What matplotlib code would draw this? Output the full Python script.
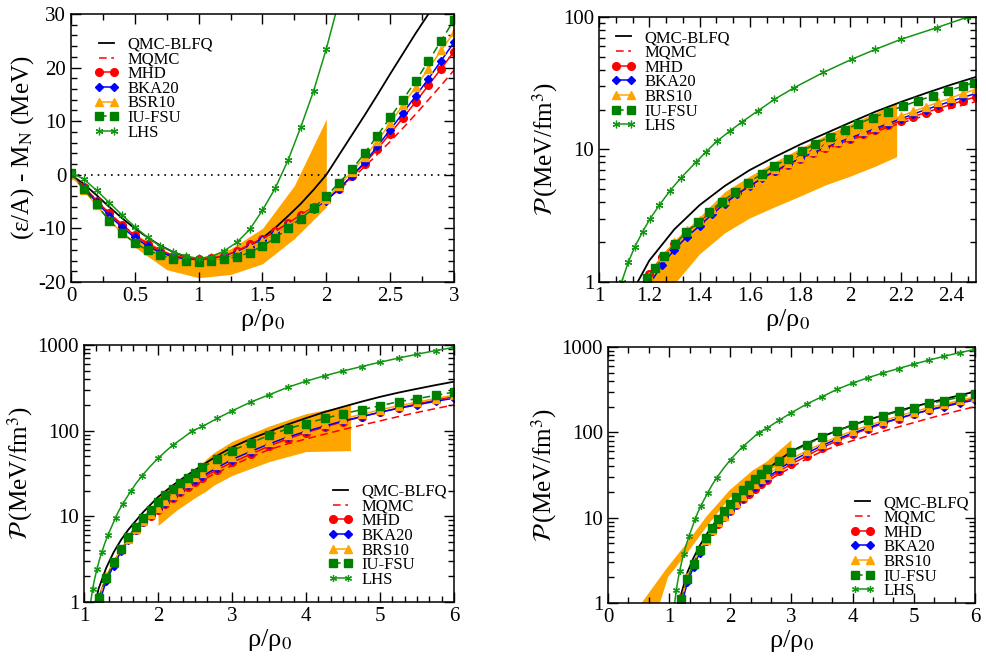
import matplotlib
matplotlib.use('Agg')
import matplotlib.pyplot as plt
import matplotlib.ticker as mt

plt.rcParams['font.family'] = ['Liberation Serif', 'DejaVu Serif']
plt.rcParams['mathtext.fontset'] = 'stix'
plt.rcParams['axes.linewidth'] = 1.1

# ---------------- Panel 1: energy per nucleon ----------------
rho1 = [0.0, 0.1, 0.2, 0.3, 0.4, 0.5, 0.6, 0.7, 0.8, 0.9, 1.0, 1.1, 1.2, 1.3, 1.4, 1.5,
        1.6, 1.7, 1.8, 1.9, 2.0, 2.1, 2.2, 2.3, 2.4, 2.5, 2.6, 2.7, 2.8, 2.9, 3.0]
e_qmc = [0.0, -1.7, -3.8, -6.0, -8.1, -10.0, -11.7, -13.2, -14.4, -15.3, -15.8, -15.8, -15.4, -14.6,
         -13.4, -11.8, -9.9, -7.7, -5.4, -2.8, 0.0, 3.7, 7.4, 11.1, 14.9, 18.8, 22.6, 26.4, 30.0, 33.7, 37.3]
e_mqmc = [0.0, -2.2, -4.7, -7.1, -9.3, -11.2, -12.8, -14.1, -15.0, -15.6, -15.8, -15.6, -15.1, -14.3,
          -13.2, -12.0, -10.6, -9.2, -7.7, -6.2, -4.6, -2.8, -0.7, 1.5, 3.8, 6.2, 8.7, 11.3, 14.0, 16.7, 19.5]
e_mhd = [0.0, -2.3, -4.8, -7.2, -9.4, -11.3, -12.9, -14.2, -15.1, -15.6, -15.8, -15.6, -15.1, -14.2,
         -13.0, -11.9, -10.5, -9.0, -7.5, -6.0, -4.6, -2.6, -0.3, 2.1, 4.8, 7.7, 10.6, 13.6, 16.7, 19.8, 23.0]
e_bka = [0.0, -2.5, -5.1, -7.6, -9.8, -11.7, -13.3, -14.5, -15.3, -15.8, -16.0, -15.8, -15.3, -14.5,
         -13.4, -12.2, -10.9, -9.4, -7.9, -6.4, -4.8, -2.6, -0.2, 2.3, 5.3, 8.4, 11.5, 14.7, 17.9, 21.3, 24.7]
e_bsr = [0.0, -2.8, -5.7, -8.5, -10.8, -12.6, -14.0, -15.0, -15.6, -16.0, -16.1, -15.9, -15.4, -14.6,
         -13.5, -12.3, -10.9, -9.4, -7.8, -6.2, -4.5, -2.0, 0.6, 3.3, 6.3, 9.6, 13.0, 16.4, 19.8, 23.2, 26.6]
e_iufsu = [0.3, -2.7, -5.5, -8.6, -10.9, -12.7, -14.1, -15.0, -15.7, -16.1, -16.2, -16.0, -15.7, -15.3,
           -14.5, -13.3, -11.8, -10.0, -8.2, -6.2, -4.0, -1.5, 1.0, 4.0, 7.3, 10.7, 14.0, 17.5, 21.2, 25.0, 28.9]
rho1_lhs = [0.0, 0.1, 0.2, 0.3, 0.4, 0.5, 0.6, 0.7, 0.8, 0.9, 1.0, 1.1, 1.2, 1.3, 1.4, 1.5,
            1.6, 1.7, 1.8, 1.9, 2.0, 2.1]
e_lhs = [0.4, -0.8, -2.9, -5.2, -7.5, -9.7, -11.7, -13.3, -14.4, -15.2, -15.6, -15.3, -14.2, -12.6,
         -10.2, -6.6, -2.5, 2.7, 8.9, 15.6, 23.5, 32.5]
band1_x = [0.5, 0.75, 1.0, 1.25, 1.5, 1.75, 2.0]
band1_lo = [-13.5, -17.7, -19.2, -18.6, -16.6, -11.9, -6.0]
band1_hi = [-11.0, -14.5, -15.5, -13.8, -10.0, -2.0, 10.4]

# ---------------- Panel 2: pressure, 1 - 2.5 rho0 ----------------
rho2 = [1.15, 1.2, 1.25, 1.3, 1.35, 1.4, 1.45, 1.5, 1.55, 1.6, 1.65, 1.7, 1.75, 1.8,
        1.85, 1.9, 1.95, 2.0, 2.05, 2.1, 2.15, 2.2, 2.25, 2.3, 2.35, 2.4, 2.45, 2.5]
p2_mhd = [0.75, 1.15, 1.55, 1.95, 2.4, 2.85, 3.45, 4.05, 4.7, 5.4, 6.15, 6.9, 7.7, 8.5,
          9.35, 10.2, 11.1, 12.0, 13.0, 14.0, 15.2, 16.4, 17.7, 19.0, 20.4, 21.9, 23.4, 25.0]
p2_bka = [0.6, 0.95, 1.35, 1.75, 2.2, 2.65, 3.25, 3.9, 4.6, 5.3, 6.1, 6.9, 7.75, 8.6,
          9.5, 10.4, 11.35, 12.3, 13.3, 14.4, 15.7, 17.0, 18.5, 20.0, 21.5, 23.1, 24.8, 26.5]
p2_bsr = [0.7, 1.1, 1.55, 2.0, 2.45, 2.95, 3.55, 4.15, 4.8, 5.5, 6.3, 7.1, 7.95, 8.8,
          9.7, 10.6, 11.6, 12.6, 13.7, 14.9, 16.3, 17.8, 19.4, 21.0, 22.7, 24.5, 26.5, 28.5]
p2_mqmc = [0.7, 1.1, 1.5, 1.95, 2.4, 2.9, 3.45, 4.05, 4.7, 5.35, 6.05, 6.8, 7.55, 8.35,
           9.15, 10.0, 10.9, 11.8, 12.7, 13.6, 14.7, 15.8, 16.9, 18.1, 19.3, 20.5, 21.7, 23.0]
rho2_qmc = [1.15, 1.2, 1.3, 1.4, 1.5, 1.6, 1.7, 1.8, 1.9, 2.0, 2.1, 2.2, 2.3, 2.4, 2.5]
p2_qmc = [0.97, 1.45, 2.5, 3.8, 5.3, 7.0, 8.8, 10.9, 13.2, 16.0, 19.3, 22.8, 26.6, 30.8, 35.3]
rho2_iufsu = [1.192, 1.223, 1.259, 1.302, 1.346, 1.395, 1.439, 1.488, 1.541, 1.592, 1.647, 1.696, 1.753,
              1.809, 1.859, 1.919, 1.979, 2.032, 2.091, 2.151, 2.211, 2.271, 2.33, 2.39, 2.45, 2.49]
p2_iufsu = [1.08, 1.27, 1.57, 1.92, 2.37, 2.85, 3.4, 4.04, 4.75, 5.62, 6.5, 7.55, 8.48,
            9.75, 11.0, 12.5, 14.0, 15.7, 17.4, 19.3, 21.3, 23.4, 25.5, 27.8, 30.1, 32.0]
rho2_lhs = [1.09, 1.117, 1.143, 1.174, 1.203, 1.24, 1.283, 1.326, 1.385, 1.426, 1.468, 1.521,
            1.57, 1.631, 1.698, 1.777, 1.893, 2.005, 2.10, 2.2, 2.343, 2.463]
p2_lhs = [1.0, 1.42, 1.85, 2.4, 3.0, 3.8, 4.9, 6.1, 8.0, 9.6, 11.5, 13.8,
          16.2, 19.5, 23.9, 29.3, 38.2, 47.9, 57.0, 67.7, 83.0, 99.4]
band2_x = [1.2, 1.25, 1.3, 1.4, 1.5, 1.6, 1.7, 1.8, 1.9, 2.0, 2.1, 2.184]
band2_lo = [0.6, 0.75, 0.97, 1.63, 2.35, 3.05, 3.7, 4.45, 5.4, 6.3, 7.5, 8.83]
band2_hi = [1.0, 1.55, 2.0, 3.1, 4.8, 6.3, 8.1, 10.2, 12.8, 15.6, 19.0, 22.5]

# ---------------- Panels 3 & 4: pressure, 1 - 6 rho0 ----------------
rho3 = [1.15, 1.2, 1.3, 1.4, 1.5, 1.6, 1.7, 1.8, 1.9, 2.0, 2.1, 2.2, 2.3, 2.4, 2.5,
        2.6, 2.8, 3.0, 3.25, 3.5, 3.75, 4.0, 4.25, 4.5, 4.75, 5.0, 5.25, 5.5, 5.75, 6.0]
p_mhd = [0.75, 1.15, 1.95, 2.85, 4.05, 5.4, 6.9, 8.5, 10.2, 12.0, 14.0, 16.4, 19.0, 21.9, 25.0,
         28.0, 35.0, 42.5, 53, 66, 80, 95, 110, 127, 145, 164, 184, 205, 227, 250]
p_bka = [0.6, 0.95, 1.75, 2.65, 3.9, 5.3, 6.9, 8.6, 10.4, 12.3, 14.4, 17.0, 20.0, 23.1, 26.5,
         29.5, 37, 46, 57, 70, 84, 98, 113, 130, 146, 164, 182, 200, 220, 239]
p_bsr = [0.7, 1.1, 2.0, 2.95, 4.15, 5.5, 7.1, 8.8, 10.6, 12.6, 14.9, 17.8, 21.0, 24.5, 28.5,
         32, 40, 49, 61, 74, 89, 104, 120, 137, 155, 175, 195, 215, 237, 260]
p_iufsu = [0.8, 1.12, 1.9, 2.9, 4.2, 5.8, 7.6, 9.55, 12.0, 14.6, 17.7, 20.9, 24.4, 28.2, 32.2,
           37.3, 46.6, 58.5, 72, 88, 105, 121, 139, 157, 176, 195, 218, 236, 258, 282]
p_mqmc = [0.7, 1.1, 1.95, 2.9, 4.05, 5.35, 6.8, 8.35, 10.0, 11.8, 13.6, 15.8, 18.1, 20.5, 23.0,
          26.5, 32.5, 39, 49, 60, 70, 80, 91, 103, 116, 130, 146, 163, 181, 200]
rho3_lhs = [1.06, 1.09, 1.117, 1.143, 1.174, 1.203, 1.24, 1.283, 1.326, 1.385, 1.426, 1.468, 1.521,
            1.57, 1.631, 1.698, 1.777, 1.893, 2.005, 2.10, 2.2, 2.343, 2.463,
            2.6, 2.8, 3.0, 3.25, 3.5, 3.75, 4.0, 4.25, 4.5, 4.75, 5.0, 5.25, 5.5, 5.75, 6.0]
p_lhs = [0.8, 1.0, 1.42, 1.85, 2.4, 3.0, 3.8, 4.9, 6.1, 8.0, 9.6, 11.5, 13.8,
         16.2, 19.5, 23.9, 29.3, 38.2, 47.9, 57.0, 67.7, 83.0, 99.4,
         112, 139, 170, 215, 262, 320, 378, 437, 497, 560, 630, 703, 780, 860, 939]
rho_qmc = [1.15, 1.2, 1.3, 1.4, 1.5, 1.6, 1.8, 2.0, 2.2, 2.4, 2.6, 2.8, 3.0, 3.25, 3.5,
           3.75, 4.0, 4.25, 4.5, 4.75, 5.0, 5.25, 5.5, 5.75, 6.0]
p3_qmc = [0.97, 1.45, 2.5, 3.8, 5.3, 7.0, 11.2, 16.8, 23.0, 30.5, 39.5, 51, 64, 80, 97,
          118, 140, 165, 190, 218, 248, 278, 308, 340, 373]
p4_qmc = [0.85, 1.3, 2.3, 3.4, 4.7, 6.2, 9.9, 14.7, 20.5, 27.5, 36.5, 47.5, 60, 74, 89,
          105, 122, 140, 159, 179, 200, 222, 246, 272, 300]
band3_x = [2.0, 2.25, 2.5, 2.66, 2.75, 3.0, 3.5, 4.0, 4.6]
band3_lo = [7.8, 11.8, 16.5, 20, 23, 30, 43.5, 57, 58.5]
band3_hi = [17.5, 24.5, 34, 47.5, 55, 75, 113, 158, 200]
band4_hi_x = [0.55, 0.96, 1.285, 1.61, 1.99, 2.37, 2.59, 3.0]
band4_hi = [1.0, 2.55, 5.0, 10.3, 21, 36, 45, 81]
band4_lo_x = [0.85, 0.985, 1.29, 1.61, 1.99, 2.32, 2.70, 3.0]
band4_lo = [1.0, 2.03, 3.8, 7.8, 16.9, 25, 37.9, 42]

ORANGE = '#ffa500'
style = {
    'QMC-BLFQ': dict(color='black', ls='-', lw=1.3),
    'MQMC': dict(color='#ff0000', ls=(0, (5, 3)), lw=1.1),
    'MHD': dict(color='#ff0000', ls='-', lw=1.1, marker='o', ms=5.5),
    'BKA20': dict(color='#0000ff', ls='-', lw=1.1, marker='D', ms=4.3),
    'BSR10': dict(color=ORANGE, ls='-', lw=1.1, marker='^', ms=6),
    'IU-FSU': dict(color='#008000', ls=(0, (5, 3)), lw=1.1, marker='s', ms=5.8),
    'LHS': dict(color='#139613', ls='-', lw=1.1, marker=(6, 2, 0), ms=5.5, mew=0.9),
}

fig = plt.figure(figsize=(9.86, 6.61), dpi=100)
ax1 = fig.add_axes([0.0720, 0.5734, 0.3884, 0.4054])
ax2 = fig.add_axes([0.6075, 0.5734, 0.3824, 0.4009])
ax3 = fig.add_axes([0.0852, 0.0893, 0.3753, 0.3888])
ax4 = fig.add_axes([0.6166, 0.0877, 0.3722, 0.3873])


def fmt(v, p):
    return f"{v:g}"


def finish(ax, log):
    ax.tick_params(which='both', direction='in', top=True, right=True, labelsize=15, width=1.0)
    ax.tick_params(which='major', length=7)
    ax.tick_params(which='minor', length=4)
    ax.xaxis.set_major_formatter(mt.FuncFormatter(fmt))
    if log:
        ax.set_yscale('log')
        ax.yaxis.set_major_locator(mt.LogLocator(base=10, numticks=10))
        ax.yaxis.set_minor_locator(mt.LogLocator(base=10, subs=range(2, 10), numticks=20))
        ax.yaxis.set_minor_formatter(mt.NullFormatter())
        ax.set_ylabel(r'$\mathcal{P}\,$(MeV/fm$^3$)', fontsize=18, labelpad=2)
    ax.yaxis.set_major_formatter(mt.FuncFormatter(fmt))
    ax.set_xlabel(r'ρ/ρ$_0$', fontsize=19, labelpad=1)


def draw(ax, x, y, name, label=None, **kw):
    st = dict(style[name])
    st.update(kw)
    ax.plot(x, y, label=label if label else name, **st)


# Panel 1
ax1.fill_between(band1_x, band1_lo, band1_hi, color=ORANGE, lw=0, zorder=1)
ax1.axhline(0, color='black', ls=(0, (1, 3)), lw=1.2, zorder=1.5)
draw(ax1, rho1, e_qmc, 'QMC-BLFQ')
draw(ax1, rho1, e_mqmc, 'MQMC')
draw(ax1, rho1, e_mhd, 'MHD')
draw(ax1, rho1, e_bka, 'BKA20')
draw(ax1, rho1, e_bsr, 'BSR10')
draw(ax1, rho1, e_iufsu, 'IU-FSU')
draw(ax1, rho1_lhs, e_lhs, 'LHS')
ax1.set_xlim(0, 3)
ax1.set_ylim(-20, 30)
ax1.xaxis.set_major_locator(mt.MultipleLocator(0.5))
ax1.xaxis.set_minor_locator(mt.MultipleLocator(0.25))
ax1.yaxis.set_major_locator(mt.MultipleLocator(10))
ax1.yaxis.set_minor_locator(mt.MultipleLocator(2))
finish(ax1, False)
ax1.set_ylabel(r'(ε/A) - M$_\mathrm{N}$ (MeV)', fontsize=18, labelpad=2)

# Panel 2
ax2.fill_between(band2_x, band2_lo, band2_hi, color=ORANGE, lw=0, zorder=1)
draw(ax2, rho2_qmc, p2_qmc, 'QMC-BLFQ')
draw(ax2, rho2, p2_mqmc, 'MQMC')
draw(ax2, rho2, p2_mhd, 'MHD')
draw(ax2, rho2, p2_bka, 'BKA20')
draw(ax2, rho2, p2_bsr, 'BSR10', label='BRS10')
draw(ax2, rho2_iufsu, p2_iufsu, 'IU-FSU')
draw(ax2, rho2_lhs, p2_lhs, 'LHS')
ax2.set_xlim(1, 2.5)
ax2.set_ylim(1, 100)
ax2.xaxis.set_major_locator(mt.MultipleLocator(0.2))
ax2.xaxis.set_minor_locator(mt.AutoMinorLocator(3))
finish(ax2, True)

# Panels 3 and 4
lhs_marks = list(range(0, 23, 2)) + list(range(23, len(rho3_lhs)))
for ax, qmc, in ((ax3, p3_qmc), (ax4, p4_qmc)):
    if ax is ax3:
        ax.fill_between(band3_x, band3_lo, band3_hi, color=ORANGE, lw=0, zorder=1)
    else:
        ax.fill(band4_hi_x + band4_lo_x[::-1], band4_hi + band4_lo[::-1],
                color=ORANGE, lw=0, zorder=1)
    draw(ax, rho_qmc, qmc, 'QMC-BLFQ')
    draw(ax, rho3, p_mqmc, 'MQMC')
    draw(ax, rho3, p_mhd, 'MHD')
    draw(ax, rho3, p_bka, 'BKA20')
    draw(ax, rho3, p_bsr, 'BSR10', label='BRS10')
    draw(ax, rho3, p_iufsu, 'IU-FSU')
    draw(ax, rho3_lhs, p_lhs, 'LHS', markevery=lhs_marks, ms=5)
    ax.set_ylim(1, 1000)
    ax.xaxis.set_major_locator(mt.MultipleLocator(1))
    finish(ax, True)
ax3.set_xlim(1, 6)
ax3.xaxis.set_minor_locator(mt.AutoMinorLocator(6))
ax4.set_xlim(0, 6)
ax4.xaxis.set_minor_locator(mt.AutoMinorLocator(3))

leg_kw = dict(frameon=False, fontsize=12, numpoints=2, handlelength=1.5,
              handletextpad=0.5, labelspacing=-0.08, borderaxespad=0, borderpad=0)
ax1.legend(loc='upper left', bbox_to_anchor=(0.06, 0.915), **leg_kw)
ax2.legend(loc='upper left', bbox_to_anchor=(0.032, 0.95), **leg_kw)
ax3.legend(loc='lower left', bbox_to_anchor=(0.66, 0.055), **leg_kw)
ax4.legend(loc='lower left', bbox_to_anchor=(0.66, 0.015), **leg_kw)

fig.savefig('out.png', dpi=100)
